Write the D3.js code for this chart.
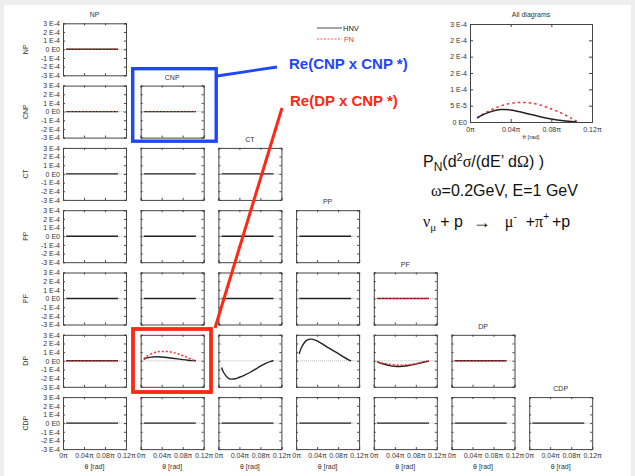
<!DOCTYPE html>
<html>
<head>
<meta charset="utf-8">
<script src="https://cdn.jsdelivr.net/npm/d3@7"></script>
<style>
  body { margin: 0; background: #eeeeee; }
  svg { display: block; }
  text { font-family: "Liberation Sans", Arial, sans-serif; }
</style>
</head>
<body>
<svg id="chart" width="635" height="476"></svg>
<script>
// amplitudes (rows / columns of the lower-triangle grid)
const amplitudes = ['NP', 'CNP', 'CT', 'PP', 'PF', 'DP', 'CDP'];

// axis ticks of the small panels
const yTicks = [3e-4, 2e-4, 1e-4, 0, -1e-4, -2e-4, -3e-4];
const yTickLabels = ['3 E-4', '2 E-4', '1 E-4', '0 E0', '-1 E-4', '-2 E-4', '-3 E-4'];
const xTicks = [0, 0.04, 0.08, 0.12];          // units of pi
const xTickLabels = ['0\u03c0', '0.04\u03c0', '0.08\u03c0', '0.12\u03c0'];

// theta grid (units of pi)
const theta = [0.006, 0.01, 0.02, 0.03, 0.04, 0.05, 0.06, 0.07, 0.08, 0.09, 0.1, 0.105];
const zeroSeries = [0, 0, 0, 0, 0, 0, 0, 0, 0, 0, 0, 0];

// interference terms that are not zero (DP row)
const dpCnpHNV = [0.15e-4, 0.3e-4, 0.42e-4, 0.46e-4, 0.44e-4, 0.38e-4, 0.3e-4, 0.22e-4, 0.14e-4, 0.07e-4, 0.02e-4, 0];
const dpCnpFN  = [0.2e-4, 0.45e-4, 0.8e-4, 1.0e-4, 1.08e-4, 1.07e-4, 0.98e-4, 0.82e-4, 0.6e-4, 0.35e-4, 0.1e-4, 0];
const dpCtHNV  = [-0.78e-4, -1.35e-4, -2.05e-4, -2.1e-4, -1.9e-4, -1.65e-4, -1.35e-4, -1.0e-4, -0.62e-4, -0.3e-4, -0.07e-4, 0];
const dpPpHNV  = [0.78e-4, 1.5e-4, 2.35e-4, 2.5e-4, 2.3e-4, 1.95e-4, 1.55e-4, 1.2e-4, 0.85e-4, 0.45e-4, 0.12e-4, 0];
const dpPfHNV  = [-0.1e-4, -0.2e-4, -0.4e-4, -0.55e-4, -0.63e-4, -0.65e-4, -0.6e-4, -0.5e-4, -0.38e-4, -0.22e-4, -0.08e-4, 0];
const dpPfFN   = [-0.1e-4, -0.18e-4, -0.3e-4, -0.4e-4, -0.47e-4, -0.5e-4, -0.48e-4, -0.42e-4, -0.32e-4, -0.2e-4, -0.07e-4, 0];

// panels where the FN curve is visible: [row, col]
const fnPanels = [[0, 0], [1, 0], [1, 1], [4, 4], [5, 0], [5, 1], [5, 4], [5, 5]];

// "All diagrams" panel
const allTheta = [0.007, 0.01, 0.02, 0.03, 0.04, 0.05, 0.06, 0.07, 0.08, 0.09, 0.1, 0.105];
const allHNV = [1.25e-5, 1.8e-5, 3.1e-5, 3.8e-5, 3.7e-5, 3.05e-5, 2.3e-5, 1.55e-5, 0.95e-5, 0.45e-5, 0.12e-5, 0];
const allFN  = [1.2e-5, 1.9e-5, 3.6e-5, 4.9e-5, 5.7e-5, 6.0e-5, 5.8e-5, 5.1e-5, 4.0e-5, 2.7e-5, 1.1e-5, 0.2e-5];
const allYTicks = [0, 5e-5, 1e-4, 1.5e-4, 2e-4, 2.5e-4, 3e-4];
const allYTickLabels = ['0 E0', '5 E-5', '1 E-4', '2 E-4', '2 E-4', '2 E-4', '3 E-4'];

const svg = d3.select('#chart');
svg.append('rect').attr('x', 4).attr('y', 5).attr('width', 627).attr('height', 471).attr('fill', '#fff');

const pw = 63, ph = 52;
const colLeft = c => 63 + c * 77.7;
const rowTop = r => 23.3 + r * 62.3;

const x = d3.scaleLinear().domain([0, 0.12]).range([0, pw]);
const y = d3.scaleLinear().domain([-3e-4, 3e-4]).range([ph, 0]);

function seriesFor(r, c, kind) {
  if (r === 5 && c === 1) return kind === 'hnv' ? dpCnpHNV : dpCnpFN;
  if (r === 5 && c === 2) return dpCtHNV;
  if (r === 5 && c === 3) return dpPpHNV;
  if (r === 5 && c === 4) return kind === 'hnv' ? dpPfHNV : dpPfFN;
  return zeroSeries;
}

const line = d3.line()
  .x((d, i) => x(theta[i]))
  .y(d => y(d))
  .curve(d3.curveCatmullRom);

for (let r = 0; r < amplitudes.length; r++) {
  for (let c = 0; c <= r; c++) {
    const g = svg.append('g').attr('transform', `translate(${colLeft(c)},${rowTop(r)})`);
    g.append('rect').attr('width', pw).attr('height', ph).attr('fill', '#fff');

    // zero reference line
    g.append('line')
      .attr('x1', 0).attr('x2', pw).attr('y1', y(0)).attr('y2', y(0))
      .attr('stroke', '#aaa').attr('stroke-width', 0.8).attr('stroke-dasharray', '1,1');

    g.append('path')
      .datum(seriesFor(r, c, 'hnv'))
      .attr('d', line)
      .attr('fill', 'none')
      .attr('stroke', '#222')
      .attr('stroke-width', 1.4);

    if (fnPanels.some(p => p[0] === r && p[1] === c)) {
      const curved = r === 5 && c !== 0 && c !== 5;
      g.append('path')
        .datum(seriesFor(r, c, 'fn'))
        .attr('d', line)
        .attr('fill', 'none')
        .attr('stroke', '#ff2a2a')
        .attr('stroke-width', curved ? 1.5 : 1)
        .attr('stroke-dasharray', curved ? '2,2' : '2,1.5');
    }

    // frame with inward ticks
    const left = d3.axisLeft(y).tickValues(yTicks).tickSize(-2).tickPadding(3);
    if (c === 0) left.tickFormat((d, i) => yTickLabels[i]); else left.tickFormat('');
    const bottom = d3.axisBottom(x).tickValues(xTicks).tickSize(-2).tickPadding(4);
    if (r === amplitudes.length - 1) bottom.tickFormat((d, i) => xTickLabels[i]); else bottom.tickFormat('');

    const axes = [
      g.append('g').call(left),
      g.append('g').attr('transform', `translate(${pw},0)`).call(d3.axisRight(y).tickValues(yTicks).tickSize(-2).tickFormat('')),
      g.append('g').attr('transform', `translate(0,${ph})`).call(bottom),
      g.append('g').call(d3.axisTop(x).tickValues(xTicks).tickSize(-2).tickFormat(''))
    ];
    axes.forEach(a => {
      a.select('.domain').attr('stroke', '#444');
      a.selectAll('.tick line').attr('stroke', '#444');
      a.selectAll('text').attr('font-size', 7).attr('fill', '#333')
        .style('font-family', '"Liberation Sans", Arial, sans-serif');
    });

    if (r === c) {
      g.append('text').attr('x', pw / 2).attr('y', -6).attr('text-anchor', 'middle')
        .attr('font-size', 7).attr('fill', '#333').text(amplitudes[r]);
    }
    if (r === amplitudes.length - 1) {
      g.append('text').attr('x', pw / 2).attr('y', ph + 20).attr('text-anchor', 'middle')
        .attr('font-size', 7).attr('fill', '#333').text('\u03b8 [rad]');
    }
  }
  svg.append('text')
    .attr('transform', `translate(28,${rowTop(r) + ph / 2}) rotate(-90)`)
    .attr('text-anchor', 'middle').attr('font-size', 7).attr('fill', '#333')
    .text(amplitudes[r]);
}

// "All diagrams" panel
const ax = 470, ay = 24, aw = 122, ah = 98;
const xa = d3.scaleLinear().domain([0, 0.12]).range([0, aw]);
const ya = d3.scaleLinear().domain([0, 3e-4]).range([ah, 0]);
const ga = svg.append('g').attr('transform', `translate(${ax},${ay})`);
const lineAll = d3.line().x((d, i) => xa(allTheta[i])).y(d => ya(d)).curve(d3.curveCatmullRom);
ga.append('path').datum(allFN).attr('d', lineAll).attr('fill', 'none')
  .attr('stroke', '#ff2a2a').attr('stroke-width', 1.5).attr('stroke-dasharray', '2.5,3');
ga.append('path').datum(allHNV).attr('d', lineAll).attr('fill', 'none')
  .attr('stroke', '#222').attr('stroke-width', 1.5);
const allAxes = [
  ga.append('g').call(d3.axisLeft(ya).tickValues(allYTicks).tickSize(-3).tickPadding(3).tickFormat((d, i) => allYTickLabels[i])),
  ga.append('g').attr('transform', `translate(${aw},0)`).call(d3.axisRight(ya).tickValues(allYTicks).tickSize(-3).tickFormat('')),
  ga.append('g').attr('transform', `translate(0,${ah})`).call(d3.axisBottom(xa).tickValues(xTicks).tickSize(-3).tickPadding(5).tickFormat((d, i) => xTickLabels[i])),
  ga.append('g').call(d3.axisTop(xa).tickValues(xTicks).tickSize(-3).tickFormat(''))
];
allAxes.forEach(a => {
  a.select('.domain').attr('stroke', '#444');
  a.selectAll('.tick line').attr('stroke', '#444');
  a.selectAll('text').attr('font-size', 7).attr('fill', '#333')
    .style('font-family', '"Liberation Sans", Arial, sans-serif');
});
ga.append('text').attr('x', aw / 2).attr('y', -7).attr('text-anchor', 'middle')
  .attr('font-size', 7).attr('fill', '#333').text('All diagrams');
ga.append('text').attr('x', aw / 2).attr('y', ah + 17).attr('text-anchor', 'middle')
  .attr('font-size', 6).attr('fill', '#333').text('\u03b8 [rad]');

// legend
const legend = svg.append('g');
legend.append('line').attr('x1', 317).attr('x2', 342).attr('y1', 28).attr('y2', 28)
  .attr('stroke', '#222').attr('stroke-width', 0.8);
legend.append('text').attr('x', 343).attr('y', 30.5).attr('font-size', 7.5).attr('fill', '#222').text('HNV');
legend.append('line').attr('x1', 317).attr('x2', 342).attr('y1', 39).attr('y2', 39)
  .attr('stroke', '#ff2a2a').attr('stroke-width', 0.8).attr('stroke-dasharray', '2,1.5');
legend.append('text').attr('x', 344).attr('y', 41.5).attr('font-size', 7.5).attr('fill', '#ff2a2a').text('FN');

// formula text
const serif = '"Liberation Serif", serif';
const f1 = svg.append('text').attr('x', 423).attr('y', 167).attr('font-size', 16).attr('fill', '#111');
f1.append('tspan').text('P');
f1.append('tspan').attr('font-size', 12).attr('dy', 4).text('N');
f1.append('tspan').attr('dy', -4).text('(d');
f1.append('tspan').attr('font-size', 11).attr('dy', -6).text('2');
f1.append('tspan').attr('dy', 6).attr('font-family', serif).text('\u03c3');
f1.append('tspan').text('/(dE\u2019 d');
f1.append('tspan').attr('font-family', serif).text('\u03a9');
f1.append('tspan').text(') )');

const f2 = svg.append('text').attr('x', 431).attr('y', 196).attr('font-size', 16).attr('fill', '#111');
f2.append('tspan').attr('font-family', serif).text('\u03c9');
f2.append('tspan').text('=0.2GeV, E=1 GeV');

const f3 = svg.append('text').attr('x', 423).attr('y', 227).attr('font-size', 16).attr('fill', '#111');
f3.append('tspan').attr('font-family', serif).text('\u03bd');
f3.append('tspan').attr('font-size', 11).attr('dy', 4).attr('font-family', serif).text('\u03bc');
f3.append('tspan').attr('dy', -4).attr('dx', 4).text('+ p');
f3.append('tspan').attr('dx', 10).attr('font-weight', 'bold').attr('font-size', 18).attr('dy', 1).text('\u2192');
f3.append('tspan').attr('dx', 14).attr('dy', -1).attr('font-family', serif).text('\u03bc');
f3.append('tspan').attr('font-size', 10).attr('dy', -7).text('-');
f3.append('tspan').attr('dy', 7).attr('dx', 9).text('+');
f3.append('tspan').attr('font-family', serif).text('\u03c0');
f3.append('tspan').attr('font-size', 10).attr('dy', -7).text('+');
f3.append('tspan').attr('dy', 7).attr('dx', 3).text('+p');

// annotations
const blue = '#1f46ff', red = '#ff2814';
svg.append('rect').attr('x', 132.7).attr('y', 68.7).attr('width', 83.5).attr('height', 72.5)
  .attr('fill', 'none').attr('stroke', blue).attr('stroke-width', 3.4);
svg.append('line').attr('x1', 217).attr('y1', 76).attr('x2', 277).attr('y2', 67)
  .attr('stroke', blue).attr('stroke-width', 2.8);
svg.append('text').attr('x', 289).attr('y', 69).attr('font-size', 15).attr('font-weight', 'bold')
  .attr('fill', blue).text('Re(CNP x CNP *)');

svg.append('rect').attr('x', 133).attr('y', 329).attr('width', 78).attr('height', 63)
  .attr('fill', 'none').attr('stroke', red).attr('stroke-width', 3.8);
svg.append('line').attr('x1', 282).attr('y1', 108).attr('x2', 215).attr('y2', 328)
  .attr('stroke', red).attr('stroke-width', 3);
svg.append('text').attr('x', 290).attr('y', 106).attr('font-size', 15).attr('font-weight', 'bold')
  .attr('fill', red).text('Re(DP x CNP *)');
</script>
</body>
</html>
